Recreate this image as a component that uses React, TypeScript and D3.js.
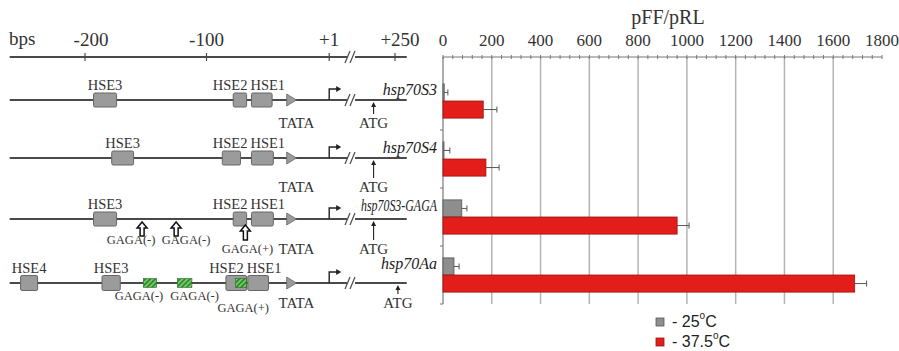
import * as d3 from 'd3'

// bar chart values (pFF/pRL)
const constructs = ['hsp70S3', 'hsp70S4', 'hsp70S3-GAGA', 'hsp70Aa']
const at25 = [5, 3, 77, 45]
const err25 = [15, 25, 21, 21]
const at375 = [165, 176, 960, 1688]
const err375 = [56, 54, 49, 49]
const seriesNames = ['25', '37.5']
const xTicks = [0, 200, 400, 600, 800, 1000, 1200, 1400, 1600, 1800]

// bp ruler
const bpUpstream = [-200, -100, 1]
const bpUpLabels = ['-200', '-100', '+1']
const bpDownstream = [250]
const bpDownLabels = ['+250']

// promoter elements: [name, start bp, end bp]
const hseS3: [string, number, number][] = [['HSE3', -193, -174], ['HSE2', -78, -67], ['HSE1', -63, -46]]
const hseS4: [string, number, number][] = [['HSE3', -178, -160], ['HSE2', -87, -72], ['HSE1', -63, -45]]
const hseS3Gaga: [string, number, number][] = [['HSE3', -193, -174], ['HSE2', -78, -67], ['HSE1', -63, -45]]
const hseAa: [string, number, number][] = [['HSE4', -253, -239], ['HSE3', -186, -171], ['HSE2', -84, -67], ['HSE1', -66, -49]]
const tataBox = [-34, -26]
const gagaArrowsS3Gaga: [string, number][] = [['GAGA(-)', -153], ['GAGA(-)', -125], ['GAGA(+)', -68]]
const gagaBoxesAa: [string, number, number][] = [['GAGA(-)', -152, -141], ['GAGA(-)', -124, -112], ['GAGA(+)', -76, -67]]
const atgPos = [177, 177, 177, 260]

const W = 899
const H = 351

const bpX = d3.scaleLinear().domain([-200, 0]).range([85, 328])
const dsX = d3.scaleLinear().domain([100, 250]).range([351, 395])
const lineStart = bpX(-262)
const lineEnd = dsX(290)
const breakX = dsX(100)

const rowY = [100, 158, 219, 283]
const bottomDy = [28, 34, 35, 25]

const xScale = d3.scaleLinear().domain([0, 1800]).range([443, 882])
const yBand = d3.scaleBand().domain(constructs).range([72, 304]).paddingInner(0.41).paddingOuter(0.205)
const ySub = d3.scaleBand().domain(seriesNames).range([0, yBand.bandwidth()])
const minor = d3.range(0, 1801, 40)

const lineCol = '#4a4a4a'
const boxFill = '#9b9b9b'
const boxStroke = '#666'
const txt = '#333'
const serif = '"Liberation Serif", "Times New Roman", serif'
const sans = '"Liberation Sans", Arial, sans-serif'

function BreakMark({ x, y }: { x: number; y: number }) {
  return (
    <g>
      <rect x={x - 4} y={y - 2} width={8} height={4} fill="#fff" />
      <line x1={x - 6} y1={y + 6} x2={x - 1} y2={y - 6} stroke={lineCol} strokeWidth={1.2} />
      <line x1={x - 1} y1={y + 6} x2={x + 4} y2={y - 6} stroke={lineCol} strokeWidth={1.2} />
    </g>
  )
}

function HollowArrow({ x, y, len }: { x: number; y: number; len: number }) {
  const p = `M${x},${y} L${x + 5},${y + 6} L${x + 2},${y + 6} L${x + 2},${y + len} L${x - 2},${y + len} L${x - 2},${y + 6} L${x - 5},${y + 6} Z`
  return <path d={p} fill="#fff" stroke="#111" strokeWidth={1.5} />
}

function Construct({ i, hse }: { i: number; hse: [string, number, number][] }) {
  const y = rowY[i]
  const h = i === 3 ? 15 : 14
  const hse1 = hse.find((d) => d[0] === 'HSE1')!
  return (
    <g>
      <line x1={lineStart} x2={lineEnd} y1={y} y2={y} stroke={lineCol} strokeWidth={2} />
      <BreakMark x={breakX} y={y} />
      {hse.map(([name, s, e]) => {
        let lx = (bpX(s) + bpX(e)) / 2
        let anchor: 'middle' | 'start' | 'end' = 'middle'
        if (name === 'HSE1') { lx = bpX(s) - 1; anchor = 'start' }
        if (name === 'HSE2') { lx = bpX(hse1[1]) - 4; anchor = 'end' }
        return (
          <g key={name}>
            <rect x={bpX(s)} y={y - h / 2} width={bpX(e) - bpX(s)} height={h} rx={1.5}
              fill={boxFill} stroke={boxStroke} strokeWidth={1} />
            <text x={lx} y={y - 10} textAnchor={anchor} fontSize={14.5} fill={txt} fontFamily={serif}>{name}</text>
          </g>
        )
      })}
      <path d={`M${bpX(tataBox[0])},${y - 6} L${bpX(tataBox[1])},${y} L${bpX(tataBox[0])},${y + 6} Z`} fill={boxFill} stroke={boxStroke} strokeWidth={0.8} />
      <text x={bpX(tataBox[1])} y={y + bottomDy[i]} textAnchor="middle" fontSize={15} fill={txt} fontFamily={serif}>TATA</text>
      <path d={`M${bpX(1)},${y} L${bpX(1)},${y - 11} L${bpX(1) + 8},${y - 11}`} fill="none" stroke="#222" strokeWidth={1.4} />
      <path d={`M${bpX(1) + 12},${y - 11} L${bpX(1) + 7},${y - 14} L${bpX(1) + 7},${y - 8} Z`} fill="#222" />
      <line x1={dsX(atgPos[i])} x2={dsX(atgPos[i])} y1={y + 5} y2={y + bottomDy[i] - 14} stroke="#222" strokeWidth={1.1} />
      <path d={`M${dsX(atgPos[i])},${y + 2} L${dsX(atgPos[i]) - 2.5},${y + 7} L${dsX(atgPos[i]) + 2.5},${y + 7} Z`} fill="#222" />
      <text x={dsX(atgPos[i])} y={y + bottomDy[i]} textAnchor="middle" fontSize={15} fill={txt} fontFamily={serif}>ATG</text>
    </g>
  )
}

const nudge = [-11, 10, 2]

export default function App() {
  return (
    <svg width={W} height={H} style={{ position: 'absolute', left: 0, top: 0, background: '#fff' }}>
      <defs>
        <pattern id="hatch" patternUnits="userSpaceOnUse" width={3.5} height={3.5} patternTransform="rotate(45)">
          <rect width={3.5} height={3.5} fill="#2f8a2f" />
          <rect width={1.6} height={3.5} fill="#7ccf6f" />
        </pattern>
      </defs>

      {/* bp ruler */}
      <text x={9} y={45} fontSize={19} fill={txt} fontFamily={serif}>bps</text>
      <line x1={lineStart} x2={lineEnd} y1={57} y2={57} stroke={lineCol} strokeWidth={2} />
      <BreakMark x={breakX} y={57} />
      {bpUpstream.map((b, k) => (
        <g key={b}>
          <line x1={bpX(b)} x2={bpX(b)} y1={53} y2={61} stroke={lineCol} strokeWidth={1.2} />
          <text x={bpX(b) + (k === 0 ? 6 : 0)} y={46} textAnchor="middle" fontSize={19} fill={txt} fontFamily={serif}>{bpUpLabels[k]}</text>
        </g>
      ))}
      {bpDownstream.map((b, k) => (
        <g key={b}>
          <line x1={dsX(b)} x2={dsX(b)} y1={53} y2={61} stroke={lineCol} strokeWidth={1.2} />
          <text x={dsX(b) + 5} y={46} textAnchor="middle" fontSize={19} fill={txt} fontFamily={serif}>{bpDownLabels[k]}</text>
        </g>
      ))}

      {/* promoter constructs */}
      <Construct i={0} hse={hseS3} />
      <Construct i={1} hse={hseS4} />
      <Construct i={2} hse={hseS3Gaga} />
      <Construct i={3} hse={hseAa} />

      {gagaArrowsS3Gaga.map(([name, b], k) => (
        <g key={'ga' + k}>
          <HollowArrow x={bpX(b)} y={rowY[2] + (name === 'GAGA(+)' ? 6 : 3)} len={name === 'GAGA(+)' ? 15 : 14} />
          <text x={bpX(b) + nudge[k]} y={rowY[2] + (name === 'GAGA(+)' ? 34 : 25)} textAnchor="middle" fontSize={12.5} fill={txt} fontFamily={serif}>{name}</text>
        </g>
      ))}
      {gagaBoxesAa.map(([name, s, e], k) => (
        <g key={'gb' + k}>
          <rect x={bpX(s)} y={rowY[3] - 4.5} width={bpX(e) - bpX(s)} height={9} fill="url(#hatch)" stroke="#2a6a2a" strokeWidth={0.6} />
          <text x={(bpX(s) + bpX(e)) / 2 + nudge[k]} y={rowY[3] + (name === 'GAGA(+)' ? 29 : 17)} textAnchor="middle" fontSize={12.5} fill={txt} fontFamily={serif}>{name}</text>
        </g>
      ))}

      {/* bar chart */}
      <text x={668} y={24} textAnchor="middle" fontSize={20} fill={txt} fontFamily={serif}>pFF/pRL</text>
      {xTicks.map((t) => (
        <text key={t} x={xScale(t)} y={46} textAnchor="middle" fontSize={17} fill={txt} fontFamily={serif}>{t}</text>
      ))}
      {xTicks.slice(1, -1).map((t) => (
        <line key={'g' + t} x1={xScale(t)} x2={xScale(t)} y1={57} y2={304} stroke="#b4b4b4" strokeWidth={1.5} />
      ))}
      <line x1={xScale(0)} x2={xScale(1800)} y1={57} y2={57} stroke="#777" strokeWidth={1.2} />
      {minor.map((t) => (
        <line key={'m' + t} x1={xScale(t)} x2={xScale(t)} y1={55} y2={59} stroke="#777" strokeWidth={1} />
      ))}
      <line x1={xScale(0)} x2={xScale(0)} y1={57} y2={304} stroke="#777" strokeWidth={1.2} />
      {constructs.map((c) => (
        <line key={'t' + c} x1={xScale(0) - 3} x2={xScale(0)} y1={yBand(c)! + yBand.bandwidth() + yBand.step() * 0.205} y2={yBand(c)! + yBand.bandwidth() + yBand.step() * 0.205} stroke="#777" strokeWidth={1} />
      ))}

      {constructs.map((c, i) => {
        const y0 = yBand(c)!
        const rows = [
          { s: '25', v: at25[i], e: err25[i], fill: '#8e8e8e', stroke: '#555' },
          { s: '37.5', v: at375[i], e: err375[i], fill: '#e31d1a', stroke: '#9a1512' },
        ]
        return (
          <g key={c}>
            <text x={437} y={y0 + ySub('25')! + ySub.bandwidth() / 2 + 3} textAnchor="end" fontSize={16} fontStyle="italic" fill="#222" fontFamily={serif}
              textLength={c.length > 8 ? 76 : undefined} lengthAdjust="spacingAndGlyphs">{c}</text>
            {rows.map((r) => {
              const by = y0 + ySub(r.s)!
              const cy = by + ySub.bandwidth() / 2
              return (
                <g key={r.s}>
                  <rect x={xScale(0)} y={by} width={Math.max(1, xScale(r.v) - xScale(0))} height={ySub.bandwidth()}
                    fill={r.fill} stroke={r.stroke} strokeWidth={0.8} />
                  <line x1={xScale(r.v)} x2={xScale(r.v + r.e)} y1={cy} y2={cy} stroke="#555" strokeWidth={1} />
                  <line x1={xScale(r.v + r.e)} x2={xScale(r.v + r.e)} y1={cy - 3} y2={cy + 3} stroke="#555" strokeWidth={1} />
                </g>
              )
            })}
          </g>
        )
      })}

      {/* legend */}
      {seriesNames.map((s, k) => (
        <g key={'l' + s} transform={`translate(656,${318 + k * 20})`}>
          <rect width={8} height={8} fill={k === 0 ? '#8e8e8e' : '#e31d1a'} stroke={k === 0 ? '#555' : '#9a1512'} strokeWidth={0.8} />
          <text x={16} y={9} fontSize={16} fill="#222" fontFamily={sans}>
            {'- ' + s}
            <tspan fontSize={10} dy={-8}>o</tspan>
            <tspan dy={8}>C</tspan>
          </text>
        </g>
      ))}
    </svg>
  )
}
